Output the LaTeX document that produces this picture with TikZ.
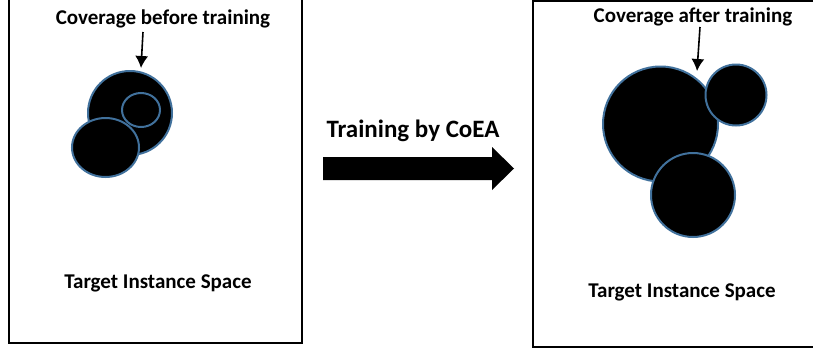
\documentclass[tikz,border=0pt]{standalone}
\usepackage{fontspec}
\setmainfont{Carlito}
\usetikzlibrary{arrows.meta}
\begin{document}
\begin{tikzpicture}[x=1pt,y=-1pt,
  lbl/.style={font=\bfseries\fontsize{21}{24}\selectfont, inner sep=0pt},
  blob/.style={fill=black, draw=blob outline, line width=2pt},
  frame/.style={draw=black, line width=2pt},
  ptr/.style={-{Latex[length=12pt,width=13pt]}, line width=1.6pt}]
\definecolor{blob outline}{HTML}{41719C}
\fill[white] (0,0) rectangle (813,351);
\useasboundingbox (0,0) rectangle (813,351);
\begin{scope}
\clip (0,0) rectangle (813,351);
% frames
\draw[frame] (9,-10) rectangle (302,343);
\draw[frame] (860,1) -- (533,1) -- (533,347) -- (860,347);
% left blobs
\draw[blob] (130,113) circle (42);
\draw[blob] (141,110) ellipse (19 and 17);
\draw[blob] (105.5,147.5) ellipse (33.5 and 29.5);
% right blobs
\draw[blob] (660.5,124) circle (57.5);
\draw[blob] (736,95) circle (30.5);
\draw[blob] (693,195) circle (42);
\end{scope}
% labels
\node[lbl] (before) at (163,19) {Coverage before training};
\node[lbl] (after) at (693,17) {Coverage after training};
\node[lbl] (tisL) at (158,283) {Target Instance Space};
\node[lbl] (tisR) at (682,292) {Target Instance Space};
\node[lbl, font=\bfseries\fontsize{25}{28}\selectfont] (train) at (413,131) {Training by CoEA};
% pointers
\coordinate (bs) at (143,32);
\coordinate (be) at (141,68);
\coordinate (as) at (700,27);
\coordinate (ae) at (697,71);
\draw[ptr] (bs) -- (be);
\draw[ptr] (as) -- (ae);
% big arrow
\fill[black] (323,157) -- (492,157) -- (492,147) -- (514,168.5) -- (492,190) -- (492,180) -- (323,180) -- cycle;
\end{tikzpicture}
\end{document}
